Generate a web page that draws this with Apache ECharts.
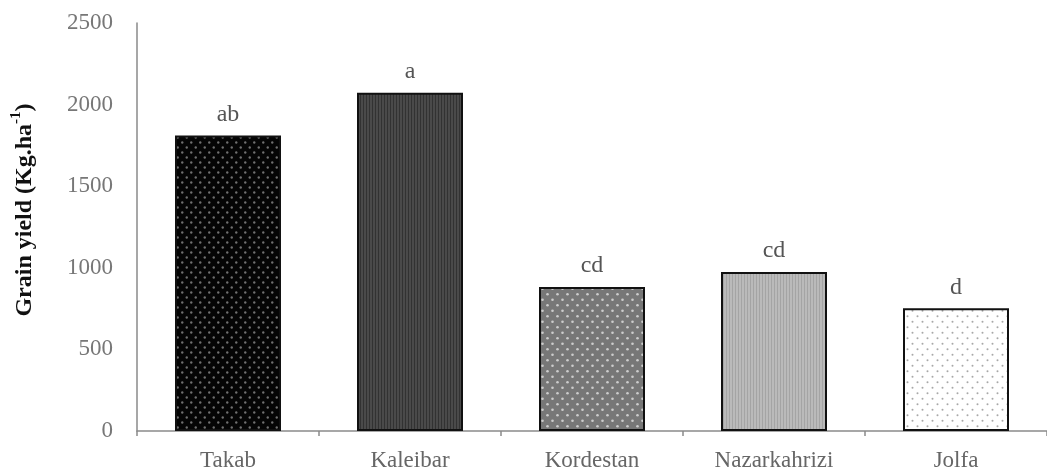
<!DOCTYPE html>
<html>
<head>
<meta charset="utf-8">
<script src="https://cdn.jsdelivr.net/npm/echarts@6/dist/echarts.min.js"></script>
<style>
  html, body { margin: 0; padding: 0; background: #fff; }
  #chart { width: 1047px; height: 472px; }
</style>
</head>
<body>
<div id="chart"></div>
<script>
// Grain yield by location, with mean-separation letters
const locations = ['Takab', 'Kaleibar', 'Kordestan', 'Nazarkahrizi', 'Jolfa'];
const grainYield = [1810, 2073, 882, 974, 752];
const groupLetters = ['ab', 'a', 'cd', 'cd', 'd'];
const yTicks = [0, 500, 1000, 1500, 2000, 2500];

const SERIF = '"Liberation Serif", "Times New Roman", serif';

// Tile builders for the bar fill textures
function dotTile(bg, dot, w, h, r) {
  const c = document.createElement('canvas');
  c.width = w; c.height = h;
  const g = c.getContext('2d');
  g.fillStyle = bg; g.fillRect(0, 0, w, h);
  g.fillStyle = dot;
  const pts = [[w * 0.25, h * 0.25], [w * 0.75, h * 0.75]];
  pts.forEach(p => { g.beginPath(); g.arc(p[0], p[1], r, 0, Math.PI * 2); g.fill(); });
  return c;
}
function stripeTile(bg, line, w, h) {
  const c = document.createElement('canvas');
  c.width = w; c.height = h;
  const g = c.getContext('2d');
  g.fillStyle = bg; g.fillRect(0, 0, w, h);
  g.fillStyle = line; g.fillRect(0, 0, 1, h);
  return c;
}

const fills = [
  { image: dotTile('#050505', '#707070', 9, 10, 1.2), repeat: 'repeat' },
  { image: stripeTile('#4a4a4a', '#323232', 3, 4), repeat: 'repeat' },
  { image: dotTile('#777777', '#cdcdcd', 10, 11, 1.3), repeat: 'repeat' },
  { image: stripeTile('#bababa', '#a4a4a4', 3, 4), repeat: 'repeat' },
  { image: dotTile('#ffffff', '#a8a8a8', 10, 11, 1.0), repeat: 'repeat' }
];

const chart = echarts.init(document.getElementById('chart'), null, { renderer: 'canvas' });

chart.setOption({
  animation: false,
  backgroundColor: '#ffffff',
  grid: { left: 137, right: -15, top: 23, bottom: 39.5, containLabel: false },
  xAxis: {
    type: 'category',
    data: locations,
    boundaryGap: true,
    axisLine: { lineStyle: { color: '#8a8a8a', width: 1.5 } },
    axisTick: { show: true, inside: false, length: 5, lineStyle: { color: '#8a8a8a', width: 1.5 } },
    axisLabel: { color: '#666', fontFamily: SERIF, fontSize: 23, margin: 18 }
  },
  yAxis: {
    type: 'value',
    min: yTicks[0],
    max: yTicks[yTicks.length - 1],
    interval: yTicks[1] - yTicks[0],
    splitLine: { show: false },
    axisLine: { show: true, lineStyle: { color: '#8a8a8a', width: 1.5 } },
    axisTick: { show: false },
    axisLabel: { color: '#777', fontFamily: SERIF, fontSize: 23, margin: 24, formatter: v => String(v) },
    name: '{b|Grain yield (Kg.ha}{s|-1}{b|)}',
    nameLocation: 'middle',
    nameGap: 100,
    nameRotate: 90,
    nameTextStyle: {
      padding: [0, 0, 0, 34],
      rich: {
        b: { fontFamily: SERIF, fontWeight: 'bold', fontSize: 24, color: '#111', lineHeight: 28, verticalAlign: 'bottom' },
        s: { fontFamily: SERIF, fontWeight: 'bold', fontSize: 15, color: '#111', lineHeight: 28, verticalAlign: 'top', padding: [0, 0, 8, 0] }
      }
    }
  },
  series: [{
    type: 'bar',
    barWidth: 106,
    data: grainYield.map((v, i) => ({
      value: v,
      itemStyle: { color: fills[i] }
    })),
    itemStyle: { borderColor: '#111', borderWidth: 2 },
    label: {
      show: true,
      position: 'top',
      distance: 9,
      color: '#555',
      fontFamily: SERIF,
      fontSize: 24,
      formatter: p => groupLetters[p.dataIndex]
    }
  }]
});
</script>
</body>
</html>
